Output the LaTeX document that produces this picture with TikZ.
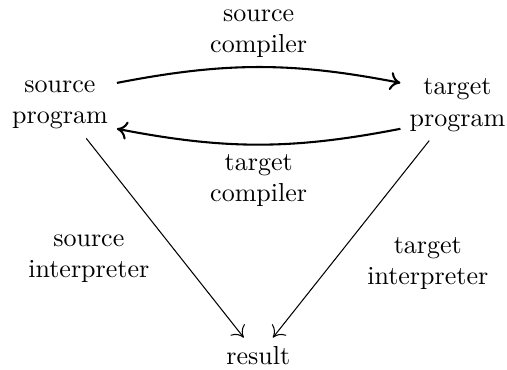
\documentclass[tikz,border=0pt]{standalone}
\usetikzlibrary{arrows.meta}
\begin{document}
\begin{tikzpicture}[>={To[length=4pt,width=7pt]},every node/.style={align=center}]
	
	\useasboundingbox (0,0) rectangle (6.85,-4.99);
	\node (src) at (0.81,-1.42) {source\\program};
	\node (tgt) at (6.18,-1.42) {target\\program};
	\node (res) at (3.49,-4.81) {result};
	\draw[->,thick] ([yshift=.3cm]src.east) to[bend left=11] node[above] (scomp) {source\\compiler} ([yshift=.3cm]tgt.west);
	\draw[->,thick] ([yshift=-.32cm]tgt.west) to[bend left=11] node[below] (tcomp) {target\\compiler} ([yshift=-.32cm]src.east);
	\draw[->] (src)--(res);
	\draw[->] (tgt)--(res);
	\node (sint) at (1.2,-3.49) {source\\interpreter};
	\node (tint) at (5.78,-3.56) {target\\interpreter};
	
\end{tikzpicture}
\end{document}
